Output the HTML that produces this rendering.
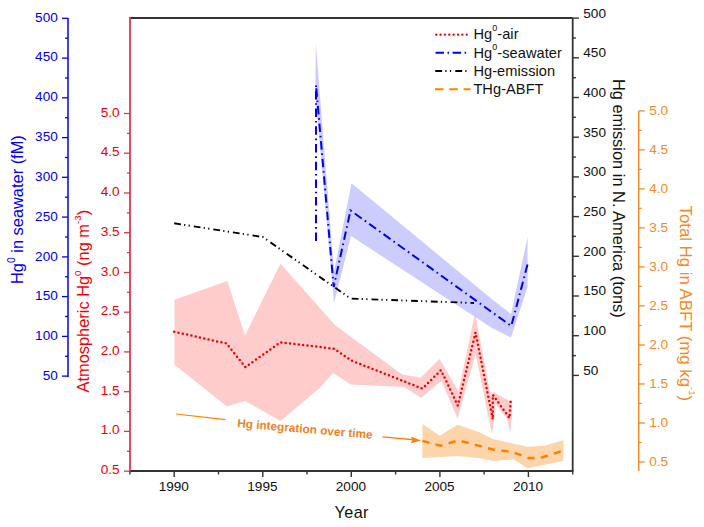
<!DOCTYPE html>
<html><head><meta charset="utf-8"><style>
html,body{margin:0;padding:0;background:#fff;}
svg{display:block;font-family:"Liberation Sans", sans-serif;}
</style></head><body>
<svg width="704" height="527" viewBox="0 0 704 527">
<rect width="704" height="527" fill="#fff"/>
<polygon points="174.5,299.8 227.3,280.9 245.0,335.5 280.5,263.7 335.0,325.0 402.0,374.5 421.0,377.5 439.6,359.0 458.5,391.5 475.0,313.0 490.0,392.5 494.2,392.5 511.8,402.2 511.8,418.0 510.1,432.5 507.5,420.0 495.3,403.0 494.2,420.0 491.9,434.0 485.0,400.0 475.6,354.0 457.5,418.5 441.5,381.0 421.0,397.8 404.0,387.0 351.0,384.5 333.0,373.0 320.0,387.7 280.5,421.0 245.0,401.0 227.0,406.4 174.5,364.7" fill="#ffcccc"/>
<polygon points="422.4,423.9 439.8,435.8 457.5,424.7 480.0,432.5 493.5,439.3 527.5,446.7 545.0,445.8 563.5,440.0 563.5,460.9 527.5,468.3 513.7,459.5 493.5,460.9 480.0,458.2 457.5,455.9 422.4,458.0" fill="#fdd5aa"/>
<polygon points="315.8,43.0 334.0,272.0 351.5,183.2 493.0,300.0 495.0,301.5 511.0,314.0 527.6,237.0 527.6,287.0 511.0,337.5 492.0,328.0 351.0,236.0 334.0,303.0 315.3,95.0" fill="#ccccff"/>
<polyline points="174.2,331.7 226.4,343.5 245.4,367.1 280.5,342.3 333.8,348.7 351.3,360.5 422.4,388.6 441.0,370.2 457.8,405.6 475.5,332.5 492.8,419.3 492.8,394.8 509.5,418.0 510.7,401.0" fill="none" stroke="#f00000" stroke-width="2.5" stroke-dasharray="0 4.4" stroke-linecap="round" stroke-linejoin="round"/>
<polyline points="174.2,223.3 262.8,237.0 350.7,298.6 474.0,303.0" fill="none" stroke="#000000" stroke-width="1.9" stroke-dasharray="6.8 3.2 1.2 3.4 1.2 4.0"/>
<polyline points="316.0,241.0 316.0,85.0 333.7,287.0 350.5,210.4 494.0,313.6 511.3,326.0 527.8,263.5" fill="none" stroke="#0000f0" stroke-width="2" stroke-dasharray="8.5 3.8 1.6 3.8"/>
<polyline points="422.4,440.9 440.5,445.7 458.5,440.4 476.3,445.1 493.9,449.8 511.3,451.7 528.4,457.9 540.0,458.0 563.8,450.4" fill="none" stroke="#ff8000" stroke-width="2.5" stroke-dasharray="7.2 6.4"/>
<line x1="176.1" y1="414" x2="225.5" y2="419.7" stroke="#ff8000" stroke-width="1.2"/>
<line x1="382.5" y1="436.9" x2="414" y2="439.8" stroke="#ff8000" stroke-width="1.4"/>
<polygon points="421,440.6 411,436.5 412.5,440.2 410.5,443.4" fill="#ff8000"/>
<text x="237" y="427" font-size="11.8" font-weight="bold" fill="#f0821e" transform="rotate(5 237 427)">Hg integration over time</text>
<line x1="130.0" y1="18.0" x2="572.7" y2="18.0" stroke="#333" stroke-width="1.8"/>
<line x1="130.0" y1="471.0" x2="573.4" y2="471.0" stroke="#333" stroke-width="1.8"/>
<line x1="572.7" y1="18.0" x2="572.7" y2="471.0" stroke="#333" stroke-width="1.8"/>
<line x1="130.0" y1="17.1" x2="130.0" y2="471.0" stroke="#d63c4c" stroke-width="1.8"/>
<line x1="129.9" y1="471.0" x2="129.9" y2="474.5" stroke="#333" stroke-width="1.4"/>
<line x1="174.2" y1="471.0" x2="174.2" y2="477.0" stroke="#333" stroke-width="1.4"/>
<text x="173.8" y="491.2" font-size="13.6" fill="#111" text-anchor="middle">1990</text>
<line x1="218.5" y1="471.0" x2="218.5" y2="474.5" stroke="#333" stroke-width="1.4"/>
<line x1="262.8" y1="471.0" x2="262.8" y2="477.0" stroke="#333" stroke-width="1.4"/>
<text x="262.4" y="491.2" font-size="13.6" fill="#111" text-anchor="middle">1995</text>
<line x1="307.0" y1="471.0" x2="307.0" y2="474.5" stroke="#333" stroke-width="1.4"/>
<line x1="351.3" y1="471.0" x2="351.3" y2="477.0" stroke="#333" stroke-width="1.4"/>
<text x="350.9" y="491.2" font-size="13.6" fill="#111" text-anchor="middle">2000</text>
<line x1="395.6" y1="471.0" x2="395.6" y2="474.5" stroke="#333" stroke-width="1.4"/>
<line x1="439.9" y1="471.0" x2="439.9" y2="477.0" stroke="#333" stroke-width="1.4"/>
<text x="439.5" y="491.2" font-size="13.6" fill="#111" text-anchor="middle">2005</text>
<line x1="484.1" y1="471.0" x2="484.1" y2="474.5" stroke="#333" stroke-width="1.4"/>
<line x1="528.4" y1="471.0" x2="528.4" y2="477.0" stroke="#333" stroke-width="1.4"/>
<text x="528.0" y="491.2" font-size="13.6" fill="#111" text-anchor="middle">2010</text>
<line x1="572.7" y1="471.0" x2="572.7" y2="474.5" stroke="#333" stroke-width="1.4"/>
<text x="351.7" y="517.8" font-size="16.2" letter-spacing="0.45" fill="#111" text-anchor="middle">Year</text>
<line x1="68" y1="18" x2="68" y2="377" stroke="#0000f0" stroke-width="1.5"/>
<line x1="62" y1="18.3" x2="68" y2="18.3" stroke="#0000f0" stroke-width="1.3"/>
<text x="57.8" y="21.6" font-size="13.6" fill="#0000f0" text-anchor="end">500</text>
<line x1="65" y1="38.2" x2="68" y2="38.2" stroke="#0000f0" stroke-width="1.3"/>
<line x1="62" y1="58.1" x2="68" y2="58.1" stroke="#0000f0" stroke-width="1.3"/>
<text x="57.8" y="61.4" font-size="13.6" fill="#0000f0" text-anchor="end">450</text>
<line x1="65" y1="78.0" x2="68" y2="78.0" stroke="#0000f0" stroke-width="1.3"/>
<line x1="62" y1="97.8" x2="68" y2="97.8" stroke="#0000f0" stroke-width="1.3"/>
<text x="57.8" y="101.2" font-size="13.6" fill="#0000f0" text-anchor="end">400</text>
<line x1="65" y1="117.7" x2="68" y2="117.7" stroke="#0000f0" stroke-width="1.3"/>
<line x1="62" y1="137.6" x2="68" y2="137.6" stroke="#0000f0" stroke-width="1.3"/>
<text x="57.8" y="141.0" font-size="13.6" fill="#0000f0" text-anchor="end">350</text>
<line x1="65" y1="157.5" x2="68" y2="157.5" stroke="#0000f0" stroke-width="1.3"/>
<line x1="62" y1="177.3" x2="68" y2="177.3" stroke="#0000f0" stroke-width="1.3"/>
<text x="57.8" y="180.9" font-size="13.6" fill="#0000f0" text-anchor="end">300</text>
<line x1="65" y1="197.2" x2="68" y2="197.2" stroke="#0000f0" stroke-width="1.3"/>
<line x1="62" y1="217.1" x2="68" y2="217.1" stroke="#0000f0" stroke-width="1.3"/>
<text x="57.8" y="220.7" font-size="13.6" fill="#0000f0" text-anchor="end">250</text>
<line x1="65" y1="237.0" x2="68" y2="237.0" stroke="#0000f0" stroke-width="1.3"/>
<line x1="62" y1="256.9" x2="68" y2="256.9" stroke="#0000f0" stroke-width="1.3"/>
<text x="57.8" y="260.5" font-size="13.6" fill="#0000f0" text-anchor="end">200</text>
<line x1="65" y1="276.8" x2="68" y2="276.8" stroke="#0000f0" stroke-width="1.3"/>
<line x1="62" y1="296.6" x2="68" y2="296.6" stroke="#0000f0" stroke-width="1.3"/>
<text x="57.8" y="300.4" font-size="13.6" fill="#0000f0" text-anchor="end">150</text>
<line x1="65" y1="316.5" x2="68" y2="316.5" stroke="#0000f0" stroke-width="1.3"/>
<line x1="62" y1="336.4" x2="68" y2="336.4" stroke="#0000f0" stroke-width="1.3"/>
<text x="57.8" y="340.2" font-size="13.6" fill="#0000f0" text-anchor="end">100</text>
<line x1="65" y1="356.3" x2="68" y2="356.3" stroke="#0000f0" stroke-width="1.3"/>
<line x1="62" y1="376.1" x2="68" y2="376.1" stroke="#0000f0" stroke-width="1.3"/>
<text x="57.8" y="380.0" font-size="13.6" fill="#0000f0" text-anchor="end">50</text>
<line x1="124.0" y1="113.5" x2="130.0" y2="113.5" stroke="#d63c4c" stroke-width="1.3"/>
<text x="119.6" y="116.5" font-size="13.6" fill="#f00000" text-anchor="end">5.0</text>
<line x1="127.0" y1="133.4" x2="130.0" y2="133.4" stroke="#d63c4c" stroke-width="1.3"/>
<line x1="124.0" y1="153.2" x2="130.0" y2="153.2" stroke="#d63c4c" stroke-width="1.3"/>
<text x="119.6" y="156.2" font-size="13.6" fill="#f00000" text-anchor="end">4.5</text>
<line x1="127.0" y1="173.1" x2="130.0" y2="173.1" stroke="#d63c4c" stroke-width="1.3"/>
<line x1="124.0" y1="193.0" x2="130.0" y2="193.0" stroke="#d63c4c" stroke-width="1.3"/>
<text x="119.6" y="196.0" font-size="13.6" fill="#f00000" text-anchor="end">4.0</text>
<line x1="127.0" y1="212.9" x2="130.0" y2="212.9" stroke="#d63c4c" stroke-width="1.3"/>
<line x1="124.0" y1="232.7" x2="130.0" y2="232.7" stroke="#d63c4c" stroke-width="1.3"/>
<text x="119.6" y="235.7" font-size="13.6" fill="#f00000" text-anchor="end">3.5</text>
<line x1="127.0" y1="252.6" x2="130.0" y2="252.6" stroke="#d63c4c" stroke-width="1.3"/>
<line x1="124.0" y1="272.5" x2="130.0" y2="272.5" stroke="#d63c4c" stroke-width="1.3"/>
<text x="119.6" y="275.5" font-size="13.6" fill="#f00000" text-anchor="end">3.0</text>
<line x1="127.0" y1="292.3" x2="130.0" y2="292.3" stroke="#d63c4c" stroke-width="1.3"/>
<line x1="124.0" y1="312.2" x2="130.0" y2="312.2" stroke="#d63c4c" stroke-width="1.3"/>
<text x="119.6" y="315.2" font-size="13.6" fill="#f00000" text-anchor="end">2.5</text>
<line x1="127.0" y1="332.1" x2="130.0" y2="332.1" stroke="#d63c4c" stroke-width="1.3"/>
<line x1="124.0" y1="351.9" x2="130.0" y2="351.9" stroke="#d63c4c" stroke-width="1.3"/>
<text x="119.6" y="354.9" font-size="13.6" fill="#f00000" text-anchor="end">2.0</text>
<line x1="127.0" y1="371.8" x2="130.0" y2="371.8" stroke="#d63c4c" stroke-width="1.3"/>
<line x1="124.0" y1="391.7" x2="130.0" y2="391.7" stroke="#d63c4c" stroke-width="1.3"/>
<text x="119.6" y="394.7" font-size="13.6" fill="#f00000" text-anchor="end">1.5</text>
<line x1="127.0" y1="411.6" x2="130.0" y2="411.6" stroke="#d63c4c" stroke-width="1.3"/>
<line x1="124.0" y1="431.4" x2="130.0" y2="431.4" stroke="#d63c4c" stroke-width="1.3"/>
<text x="119.6" y="434.4" font-size="13.6" fill="#f00000" text-anchor="end">1.0</text>
<line x1="127.0" y1="451.3" x2="130.0" y2="451.3" stroke="#d63c4c" stroke-width="1.3"/>
<line x1="124.0" y1="471.2" x2="130.0" y2="471.2" stroke="#d63c4c" stroke-width="1.3"/>
<text x="119.6" y="474.2" font-size="13.6" fill="#f00000" text-anchor="end">0.5</text>
<line x1="572.7" y1="18.1" x2="578.9" y2="18.1" stroke="#333" stroke-width="1.4"/>
<text x="583.3" y="17.5" font-size="13.6" fill="#111">500</text>
<line x1="572.7" y1="38.0" x2="575.9" y2="38.0" stroke="#333" stroke-width="1.4"/>
<line x1="572.7" y1="57.8" x2="578.9" y2="57.8" stroke="#333" stroke-width="1.4"/>
<text x="583.3" y="57.2" font-size="13.6" fill="#111">450</text>
<line x1="572.7" y1="77.7" x2="575.9" y2="77.7" stroke="#333" stroke-width="1.4"/>
<line x1="572.7" y1="97.5" x2="578.9" y2="97.5" stroke="#333" stroke-width="1.4"/>
<text x="583.3" y="96.9" font-size="13.6" fill="#111">400</text>
<line x1="572.7" y1="117.3" x2="575.9" y2="117.3" stroke="#333" stroke-width="1.4"/>
<line x1="572.7" y1="137.2" x2="578.9" y2="137.2" stroke="#333" stroke-width="1.4"/>
<text x="583.3" y="136.6" font-size="13.6" fill="#111">350</text>
<line x1="572.7" y1="157.1" x2="575.9" y2="157.1" stroke="#333" stroke-width="1.4"/>
<line x1="572.7" y1="176.9" x2="578.9" y2="176.9" stroke="#333" stroke-width="1.4"/>
<text x="583.3" y="176.3" font-size="13.6" fill="#111">300</text>
<line x1="572.7" y1="196.8" x2="575.9" y2="196.8" stroke="#333" stroke-width="1.4"/>
<line x1="572.7" y1="216.6" x2="578.9" y2="216.6" stroke="#333" stroke-width="1.4"/>
<text x="583.3" y="216.0" font-size="13.6" fill="#111">250</text>
<line x1="572.7" y1="236.4" x2="575.9" y2="236.4" stroke="#333" stroke-width="1.4"/>
<line x1="572.7" y1="256.3" x2="578.9" y2="256.3" stroke="#333" stroke-width="1.4"/>
<text x="583.3" y="255.7" font-size="13.6" fill="#111">200</text>
<line x1="572.7" y1="276.2" x2="575.9" y2="276.2" stroke="#333" stroke-width="1.4"/>
<line x1="572.7" y1="296.0" x2="578.9" y2="296.0" stroke="#333" stroke-width="1.4"/>
<text x="583.3" y="295.4" font-size="13.6" fill="#111">150</text>
<line x1="572.7" y1="315.9" x2="575.9" y2="315.9" stroke="#333" stroke-width="1.4"/>
<line x1="572.7" y1="335.7" x2="578.9" y2="335.7" stroke="#333" stroke-width="1.4"/>
<text x="583.3" y="335.1" font-size="13.6" fill="#111">100</text>
<line x1="572.7" y1="355.6" x2="575.9" y2="355.6" stroke="#333" stroke-width="1.4"/>
<line x1="572.7" y1="375.4" x2="578.9" y2="375.4" stroke="#333" stroke-width="1.4"/>
<text x="583.3" y="374.8" font-size="13.6" fill="#111">50</text>
<line x1="638.7" y1="110.9" x2="638.7" y2="471" stroke="#f38a24" stroke-width="1.5"/>
<line x1="638.7" y1="110.9" x2="644.7" y2="110.9" stroke="#f38a24" stroke-width="1.3"/>
<text x="649.2" y="115.1" font-size="13.6" fill="#f38a24">5.0</text>
<line x1="638.7" y1="130.4" x2="641.7" y2="130.4" stroke="#f38a24" stroke-width="1.3"/>
<line x1="638.7" y1="149.9" x2="644.7" y2="149.9" stroke="#f38a24" stroke-width="1.3"/>
<text x="649.2" y="154.0" font-size="13.6" fill="#f38a24">4.5</text>
<line x1="638.7" y1="169.4" x2="641.7" y2="169.4" stroke="#f38a24" stroke-width="1.3"/>
<line x1="638.7" y1="188.9" x2="644.7" y2="188.9" stroke="#f38a24" stroke-width="1.3"/>
<text x="649.2" y="193.0" font-size="13.6" fill="#f38a24">4.0</text>
<line x1="638.7" y1="208.4" x2="641.7" y2="208.4" stroke="#f38a24" stroke-width="1.3"/>
<line x1="638.7" y1="227.9" x2="644.7" y2="227.9" stroke="#f38a24" stroke-width="1.3"/>
<text x="649.2" y="231.9" font-size="13.6" fill="#f38a24">3.5</text>
<line x1="638.7" y1="247.4" x2="641.7" y2="247.4" stroke="#f38a24" stroke-width="1.3"/>
<line x1="638.7" y1="266.9" x2="644.7" y2="266.9" stroke="#f38a24" stroke-width="1.3"/>
<text x="649.2" y="270.9" font-size="13.6" fill="#f38a24">3.0</text>
<line x1="638.7" y1="286.4" x2="641.7" y2="286.4" stroke="#f38a24" stroke-width="1.3"/>
<line x1="638.7" y1="305.9" x2="644.7" y2="305.9" stroke="#f38a24" stroke-width="1.3"/>
<text x="649.2" y="309.8" font-size="13.6" fill="#f38a24">2.5</text>
<line x1="638.7" y1="325.5" x2="641.7" y2="325.5" stroke="#f38a24" stroke-width="1.3"/>
<line x1="638.7" y1="345.0" x2="644.7" y2="345.0" stroke="#f38a24" stroke-width="1.3"/>
<text x="649.2" y="348.8" font-size="13.6" fill="#f38a24">2.0</text>
<line x1="638.7" y1="364.5" x2="641.7" y2="364.5" stroke="#f38a24" stroke-width="1.3"/>
<line x1="638.7" y1="384.0" x2="644.7" y2="384.0" stroke="#f38a24" stroke-width="1.3"/>
<text x="649.2" y="387.8" font-size="13.6" fill="#f38a24">1.5</text>
<line x1="638.7" y1="403.5" x2="641.7" y2="403.5" stroke="#f38a24" stroke-width="1.3"/>
<line x1="638.7" y1="423.0" x2="644.7" y2="423.0" stroke="#f38a24" stroke-width="1.3"/>
<text x="649.2" y="426.7" font-size="13.6" fill="#f38a24">1.0</text>
<line x1="638.7" y1="442.5" x2="641.7" y2="442.5" stroke="#f38a24" stroke-width="1.3"/>
<line x1="638.7" y1="462.0" x2="644.7" y2="462.0" stroke="#f38a24" stroke-width="1.3"/>
<text x="649.2" y="465.6" font-size="13.6" fill="#f38a24">0.5</text>
<text transform="translate(23,284.0) rotate(-90)" font-size="16.4" fill="#0000f0">Hg<tspan dy="-7.6" font-size="10.4">0</tspan><tspan dy="7.6"> in seawater (fM)</tspan></text>
<text transform="translate(89,392.5) rotate(-90)" font-size="16.4" fill="#f00000">Atmospheric Hg<tspan dy="-8" font-size="9.8">0</tspan><tspan dy="8"> (ng m</tspan><tspan dy="-8" font-size="9.8">-3</tspan><tspan dy="8">)</tspan></text>
<text transform="translate(613.2,79) rotate(90)" font-size="16.4" fill="#111">Hg emission in N. America (tons)</text>
<text transform="translate(680,205.5) rotate(90)" font-size="16.8" fill="#f38a24">Total Hg in ABFT (mg kg<tspan dy="-8.5" font-size="9.5">-1</tspan><tspan dy="8.5">)</tspan></text>
<line x1="436.2" y1="34.6" x2="469" y2="34.6" stroke="#f00000" stroke-width="2.4" stroke-dasharray="0 4.36" stroke-linecap="round"/>
<line x1="435.5" y1="52.7" x2="468" y2="52.7" stroke="#0000f0" stroke-width="2" stroke-dasharray="8.5 3.5 1.5 3.6"/>
<line x1="435.3" y1="71.1" x2="468" y2="71.1" stroke="#000000" stroke-width="2" stroke-dasharray="6.8 3.2 1.2 3.4 1.2 4.2"/>
<line x1="435" y1="89.3" x2="470.5" y2="89.3" stroke="#ff8000" stroke-width="2.0" stroke-dasharray="8.5 5.8"/>
<text x="473.4" y="38.9" font-size="14.6" letter-spacing="0.06" fill="#111">Hg<tspan dy="-7.8" font-size="9">0</tspan><tspan dy="7.8">-air</tspan></text>
<text x="473.4" y="57.7" font-size="14.6" letter-spacing="0.06" fill="#111">Hg<tspan dy="-7.8" font-size="9">0</tspan><tspan dy="7.8">-seawater</tspan></text>
<text x="473.4" y="75.8" font-size="14.6" letter-spacing="0.06" fill="#111">Hg-emission</text>
<text x="473.4" y="94.3" font-size="14.6" letter-spacing="0.06" fill="#111">THg-ABFT</text>
</svg>
</body></html>
